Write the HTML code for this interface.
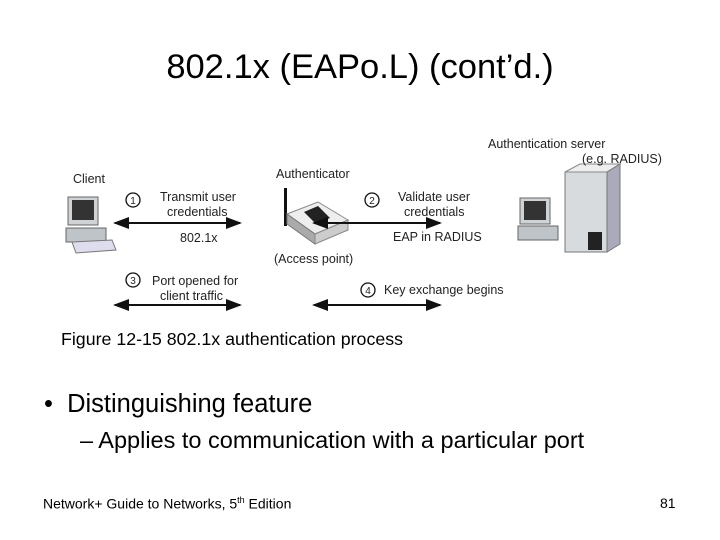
<!DOCTYPE html>
<html><head><meta charset="utf-8"><style>
body{margin:0;width:720px;height:540px;background:#fff;position:relative;font-family:"Liberation Sans",sans-serif;overflow:hidden}
.t{position:absolute;white-space:nowrap;color:#000}
</style></head><body>
<div class="t" style="left:0;width:720px;text-align:center;top:48px;font-size:34.5px">802.1x (EAPo.L) (cont’d.)</div>
<svg style="position:absolute;left:0;top:0" width="720" height="540" font-family="Liberation Sans, sans-serif" font-size="12.5" fill="#222">
<defs><marker id="a" markerWidth="8" markerHeight="8" refX="7" refY="4" orient="auto-start-reverse"><path d="M0,1 L8,4 L0,7z" fill="#111"/></marker></defs>
<!-- client pc -->
<rect x="68" y="197" width="30" height="28" fill="#cfd3d6" stroke="#666"/><rect x="72" y="200" width="22" height="20" fill="#333"/>
<rect x="66" y="228" width="40" height="14" fill="#bfc4c8" stroke="#666"/><path d="M72,242 L112,240 L116,250 L76,253z" fill="#dde" stroke="#777"/>
<!-- AP -->
<rect x="284" y="188" width="3" height="38" fill="#111"/>
<path d="M287,214 L318,202 L348,220 L315,234z" fill="#eee" stroke="#888"/><path d="M287,214 L315,234 L315,244 L287,224z" fill="#aaa" stroke="#777"/><path d="M315,234 L348,220 L348,230 L315,244z" fill="#ccc" stroke="#888"/>
<path d="M304,212 L318,206 L330,218 L316,224z" fill="#222"/>
<!-- server -->
<rect x="520" y="198" width="30" height="26" fill="#cfd3d6" stroke="#666"/><rect x="524" y="201" width="22" height="19" fill="#333"/>
<rect x="518" y="226" width="40" height="14" fill="#bfc4c8" stroke="#666"/>
<rect x="565" y="172" width="42" height="80" fill="#d8dbde" stroke="#777"/><path d="M565,172 L580,164 L620,164 L607,172z" fill="#eee" stroke="#888"/><path d="M607,172 L620,164 L620,244 L607,252z" fill="#aab" stroke="#777"/>
<rect x="588" y="232" width="14" height="18" fill="#222"/>
<g stroke="#111" stroke-width="2" marker-start="url(#a)" marker-end="url(#a)">
<line x1="115" y1="223" x2="240" y2="223"/><line x1="314" y1="223" x2="440" y2="223"/>
<line x1="115" y1="305" x2="240" y2="305"/><line x1="314" y1="305" x2="440" y2="305"/></g>
<text x="73" y="183">Client</text>
<text x="276" y="178">Authenticator</text>
<text x="488" y="148">Authentication server</text>
<text x="582" y="163">(e.g. RADIUS)</text>
<g fill="none" stroke="#111" stroke-width="1.3"><circle cx="133" cy="200" r="7"/><circle cx="372" cy="200" r="7"/><circle cx="133" cy="280" r="7"/><circle cx="368" cy="290" r="7"/></g>
<g font-size="10" text-anchor="middle"><text x="133" y="204">1</text><text x="372" y="204">2</text><text x="133" y="284">3</text><text x="368" y="294">4</text></g>
<text x="160" y="201">Transmit user</text><text x="167" y="216">credentials</text>
<text x="180" y="242">802.1x</text>
<text x="398" y="201">Validate user</text><text x="404" y="216">credentials</text>
<text x="393" y="241">EAP in RADIUS</text>
<text x="274" y="263">(Access point)</text>
<text x="152" y="285">Port opened for</text><text x="160" y="300">client traffic</text>
<text x="384" y="294">Key exchange begins</text>
</svg>
<div class="t" style="left:61px;top:329px;font-size:17.8px">Figure 12-15 802.1x authentication process</div>
<div class="t" style="left:44px;top:390px;font-size:25.5px">•&nbsp; Distinguishing feature</div>
<div class="t" style="left:80px;top:427px;font-size:23.5px">– Applies to communication with a particular port</div>
<div class="t" style="left:43px;top:495px;font-size:14px">Network+ Guide to Networks, 5<sup style="font-size:9px">th</sup> Edition</div>
<div class="t" style="left:660px;top:495px;font-size:14px">81</div>
</body></html>
